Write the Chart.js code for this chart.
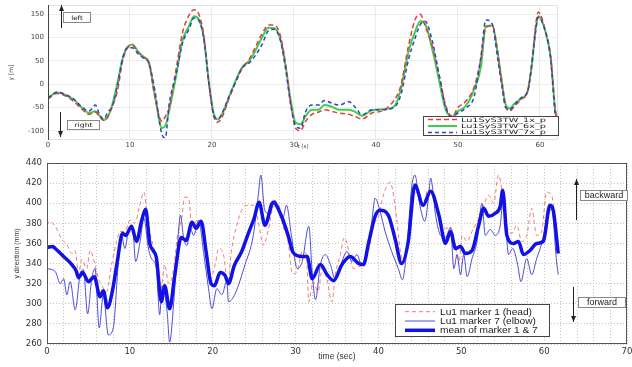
<!DOCTYPE html>
<html><head><meta charset="utf-8">
<script src="https://cdn.jsdelivr.net/npm/chart.js@4.4.0/dist/chart.umd.min.js"></script>
<style>
html,body{margin:0;padding:0;background:#fff;overflow:hidden;width:632px;height:367px;}
#c1{position:absolute;left:0;top:0;width:632px;height:150px;}
#c2{position:absolute;left:0;top:150px;width:632px;height:217px;}
</style></head><body>
<canvas id="c1" width="632" height="150"></canvas>
<canvas id="c2" width="632" height="217"></canvas>
<script>
// ---------- top chart data ----------
const topT = [0,1.1,2.1,3.2,4.2,5.0,5.8,6.2,6.8,7.3,7.9,8.5,9.1,9.7,10.3,11,11.7,12.3,13,13.9,14.3,14.8,15.6,16.4,17.2,17.8,18.4,19,19.6,20.2,20.7,21.3,22.1,22.9,23.7,24.5,25.3,26.1,26.9,27.6,28.4,29,29.6,30.2,30.8,31.4,32.2,33,33.7,34.5,35.5,36.7,37.5,38.3,39.5,40.8,42.2,43,44,44.8,45.4,46,46.9,47.7,48.5,49.3,50,50.9,52,52.8,53.4,54.2,54.8,55.4,55.8,56.3,57,57.8,58.5,59,59.5,59.8,60.7,61.3,61.9,62.2];
const top6x = [-30,-18,-23,-34,-52,-62,-58,-66,-77,-70,-40,5,55,80,85,70,58,48,-20,-94,-90,-55,15,93,125,146,139,100,8,-62,-76,-62,-27,8,37,49,72,100,121,120,93,37,-34,-83,-86,-69,-55,-55,-45,-48,-55,-55,-60,-68,-56,-54,-48,-13,72,114,135,129,72,8,-55,-70,-58,-48,-10,37,125,126,72,-1,-43,-52,-40,-30,-15,40,121,146,111,58,-62,-80];
const top1x = [-32,-20,-25,-38,-55,-65,-60,-68,-78,-70,-45,-12,50,78,83,68,57,45,-25,-80,-70,-50,30,110,148,160,150,105,5,-68,-82,-68,-30,5,35,52,80,108,127,127,100,40,-40,-95,-100,-80,-65,-60,-55,-58,-62,-65,-70,-75,-62,-57,-35,-5,85,140,150,125,80,20,-45,-70,-50,-38,-5,55,122,125,75,0,-45,-58,-45,-32,-15,45,130,155,112,60,-60,-80];
const top7x = [-30,-17,-22,-33,-50,-58,-45,-62,-75,-60,-45,0,55,78,78,65,55,45,-10,-108,-115,-40,20,88,118,142,137,98,5,-65,-75,-60,-25,5,35,45,62,85,115,118,90,30,-45,-90,-95,-60,-45,-45,-35,-40,-45,-38,-50,-66,-55,-55,-50,-25,55,100,128,135,90,20,-50,-70,-62,-52,-25,60,138,128,60,-10,-50,-55,-42,-28,-15,40,118,144,110,55,-75,-100];
const topXTicks = [0,10,20,30,40,50,60];
const topYTicks = [-100,-50,0,50,100,150];
const topLabels = ['Lu1SyS3TW_1x_p','Lu1SyS3TW_6x_p','Lu1SyS3TW_7x_p'];

// ---------- bottom chart data ----------
const botMeanT = [0,0.7,1,2,3,3.5,3.8,4.3,5,5.7,6.4,6.8,7.3,7.9,8.5,9.1,9.5,10.2,10.8,11.4,11.9,12.4,12.8,13.2,13.8,14.2,14.8,15.4,16.2,16.8,17.5,18,18.6,19.2,19.8,20.2,20.9,21.5,21.9,22.6,23.5,24.3,25,25.6,26.3,27.3,28.3,29.1,29.7,30.8,31.4,32,33,33.8,34.6,35.6,36.6,37.6,38.2,38.8,39.6,40.2,41.2,42,42.8,43.6,44.4,45.4,46.3,47.3,48.1,48.7,49.3,49.9,50.5,51.3,52.1,52.7,53.3,54.1,54.7,55,55.5,56.3,56.9,57.5,58.3,59.1,59.9,60.7,61.1,61.7];
const botMeanY = [356,357,355,347,339,333,326,331,322,327,307,313,296,313,343,370,368,377,362,382,394,360,353,346,302,318,295,327,366,363,381,375,382,352,320,318,331,328,320,338,352,370,385,401,378,401,387,368,351,347,347,325,339,329,323,339,347,340,339,360,387,393,388,365,340,362,418,398,412,388,360,372,355,357,350,353,378,395,387,390,397,413,368,360,362,349,353,360,362,398,393,350];
const botElbowT = [0,1,1.6,2,2.4,2.8,3.4,4,4.4,4.9,5.4,5.8,6.3,6.8,7.4,8,8.6,9,9.4,9.8,10.3,10.7,11.2,11.7,12.2,12.6,13.2,13.6,13.9,14.5,14.8,15.3,15.7,16.1,16.5,16.9,17.3,17.7,18.3,18.9,19.5,19.9,20.5,21.1,21.7,21.9,22.7,23.9,24.9,25.5,25.8,26.3,26.9,27.5,28.1,28.5,28.9,29.5,30.2,30.8,31.6,32,32.4,33,33.6,34.2,34.8,35.6,36.2,36.8,37.4,38,38.6,39.2,39.6,40.2,40.8,41.6,42.4,42.9,43.4,44,44.4,45,45.6,46.1,46.3,46.9,47.5,48.1,48.7,49.1,49.5,49.9,50.3,50.7,51.3,51.9,52.5,52.9,53.5,54.1,54.7,55.1,55.7,56.2,56.8,57.2,57.9,58.5,59.1,59.7,60.3,60.9,61.5,61.7];
const botElbowY = [335,332,320,325,309,322,294,329,334,290,325,335,276,309,269,276,339,368,355,371,378,342,360,385,357,345,335,289,318,292,262,302,351,388,365,358,375,368,383,351,315,295,315,309,322,302,310,339,368,408,428,392,390,403,390,386,398,368,335,342,377,332,304,339,349,339,324,342,352,342,349,338,349,382,405,392,372,352,335,324,352,415,428,398,382,411,425,388,368,366,376,335,349,329,349,327,345,362,400,368,374,368,378,408,349,355,339,322,345,329,345,360,382,395,342,329];
const botHeadT = [0,0.3,1,1.8,2.4,3,3.4,3.8,4.2,4.8,5.2,5.7,6.2,6.7,7.2,7.8,8.4,8.8,9.4,10,10.6,11.2,11.7,12,12.4,13,13.4,13.8,14.2,14.7,15.3,15.7,16.3,16.6,17.1,17.5,18.1,18.7,19.3,19.7,20.3,20.7,21.3,21.8,22.3,22.9,23.7,24.3,24.9,25.5,26.1,26.7,27.3,27.9,28.5,29.1,29.6,30.2,30.8,31.3,31.6,32.1,32.7,33.3,33.8,34.4,34.8,35.4,35.9,36.5,37,37.6,38.2,38.8,39.4,40,40.6,41.4,42,42.6,43,43.6,44.2,44.8,45.4,46,46.9,47.5,48.1,48.7,49.3,49.7,50.1,50.7,51.3,52.1,52.7,53.3,53.9,54.5,55,55.5,56.1,56.7,57.3,57.9,58.5,59.1,59.7,60.3,60.9,61.5];
const botHeadY = [378,382,377,364,359,350,353,330,344,335,353,342,325,317,312,339,362,372,372,383,380,398,411,396,372,352,335,318,339,320,335,365,388,406,405,375,383,378,349,325,339,355,349,322,355,378,396,398,398,382,358,373,396,398,377,362,330,332,352,349,302,322,312,339,324,302,329,349,366,349,335,337,339,352,378,386,408,421,398,355,342,362,405,411,398,414,398,382,375,376,357,339,368,362,372,385,398,408,400,428,408,378,370,378,362,368,395,368,372,411,408,368];
const botXTicks = [0,10,20,30,40,50,60,70];
const botYTicks = [260,280,300,320,340,360,380,400,420,440];
const botLabels = ['Lu1 marker 1 (head)','Lu1 marker 7 (elbow)','mean of marker 1 & 7'];

function zip(t,y){ return t.map((v,i)=>({x:v,y:y[i]})); }

function stretchText(ctx,text,x,y,sx){
  ctx.save(); ctx.translate(x,y); ctx.scale(sx,1); ctx.fillText(text,0,0); ctx.restore();
}
function arrow(ctx,x,y1,y2){
  ctx.beginPath(); ctx.moveTo(x+0.5,y1); ctx.lineTo(x+0.5,y2); ctx.stroke();
  const d = y2>y1?1:-1;
  ctx.beginPath(); ctx.moveTo(x+0.5,y2); ctx.lineTo(x-2,y2-d*6); ctx.lineTo(x+3,y2-d*6); ctx.closePath(); ctx.fill();
}
function box(ctx,x,y,w,h,text,font,sx){
  ctx.fillStyle='#fff'; ctx.fillRect(x,y,w,h);
  ctx.strokeStyle='#888'; ctx.lineWidth=1; ctx.strokeRect(x+0.5,y+0.5,w,h);
  ctx.fillStyle='#222'; ctx.font=font; ctx.textAlign='left'; ctx.textBaseline='middle';
  const tw = ctx.measureText(text).width*sx;
  stretchText(ctx,text,x+(w-tw)/2+0.5,y+h/2+1,sx);
}
function drawLegend(ctx,chart,order,labels,bx,by,bw,bh,rows,lx1,lx2,tx,font,sx){
  ctx.save();
  ctx.fillStyle='#fff'; ctx.fillRect(bx,by,bw,bh);
  ctx.strokeStyle='#444'; ctx.lineWidth=1; ctx.strokeRect(bx+0.5,by+0.5,bw,bh);
  order.forEach((di,k)=>{
    const ds = chart.data.datasets[di];
    ctx.strokeStyle=ds.borderColor; ctx.lineWidth=ds.borderWidth; ctx.setLineDash(ds.borderDash||[]);
    ctx.beginPath(); ctx.moveTo(lx1,rows[k]); ctx.lineTo(lx2,rows[k]); ctx.stroke();
    ctx.setLineDash([]);
    ctx.fillStyle='#222'; ctx.font=font; ctx.textAlign='left'; ctx.textBaseline='middle';
    stretchText(ctx,labels[k],tx,rows[k]+0.5,sx);
  });
  ctx.restore();
}

const topPlugin = {
  id:'topDeco',
  afterDraw(chart){
    const ctx=chart.ctx, ca=chart.chartArea;
    ctx.save();
    ctx.strokeStyle='#e2e2e2'; ctx.lineWidth=1;
    ctx.beginPath();
    ctx.moveTo(ca.left,ca.top+0.5); ctx.lineTo(ca.right-0.5,ca.top+0.5); ctx.lineTo(ca.right-0.5,ca.bottom-0.5); ctx.lineTo(ca.left,ca.bottom-0.5);
    ctx.stroke();
    ctx.strokeStyle='#444';
    ctx.beginPath(); ctx.moveTo(Math.round(ca.left)+0.5,ca.top); ctx.lineTo(Math.round(ca.left)+0.5,ca.bottom); ctx.stroke();
    // annotations
    ctx.strokeStyle='#222'; ctx.fillStyle='#222'; ctx.lineWidth=1;
    arrow(ctx,61,28,5);
    arrow(ctx,60,112,137);
    box(ctx,63,12,27,10,'left',"6px 'DejaVu Sans'",1.2);
    box(ctx,67,120,32,9,'right',"6px 'DejaVu Sans'",1.3);
    ctx.restore();
    ctx.save();
    ctx.font="6px 'DejaVu Sans'";
    const sx = 85/ctx.measureText(topLabels[0]).width;
    drawLegend(ctx,chart,[1,2,0],topLabels,423,116,135,19,[119.6,126,132.4],428,457,461,"6px 'DejaVu Sans'",sx);
    ctx.restore();
  }
};

const botPlugin = {
  id:'botDeco',
  afterDraw(chart){
    const ctx=chart.ctx, ca=chart.chartArea;
    ctx.save();
    ctx.strokeStyle='#555'; ctx.lineWidth=1;
    ctx.strokeRect(Math.round(ca.left)+0.5,Math.round(ca.top)+0.5,Math.round(ca.right-ca.left)-1,Math.round(ca.bottom-ca.top)-1);
    ctx.strokeStyle='#222'; ctx.fillStyle='#222';
    arrow(ctx,576,70,29);
    arrow(ctx,573,137,172);
    box(ctx,580,40,47,10,'backward',"9px 'Liberation Sans'",1.0);
    box(ctx,578,147,47,10,'forward',"9px 'Liberation Sans'",1.0);
    ctx.restore();
    ctx.save();
    ctx.font="9.5px 'Liberation Sans'";
    const sx = 92/ctx.measureText(botLabels[0]).width;
    drawLegend(ctx,chart,[2,1,0],botLabels,395,154,154,32,[161.7,171,180.3],405,435,440,"9.5px 'Liberation Sans'",sx);
    ctx.restore();
  }
};

new Chart(document.getElementById('c1'),{
  type:'line',
  data:{datasets:[
    {label:topLabels[2],data:zip(topT,top7x),borderColor:'#2a46c8',borderWidth:1.5,borderDash:[4,3]},
    {label:topLabels[0],data:zip(topT,top1x),borderColor:'#e6393c',borderWidth:1.5,borderDash:[5,3]},
    {label:topLabels[1],data:zip(topT,top6x),borderColor:'#3fd046',borderWidth:2}
  ]},
  options:{
    responsive:false,animation:false,events:[],
    layout:{padding:{left:0,right:74,top:5,bottom:0}},
    elements:{point:{radius:0},line:{cubicInterpolationMode:'monotone'}},
    plugins:{legend:{display:false},tooltip:{enabled:false}},
    scales:{
      x:{type:'linear',min:0,max:62.2,
        afterBuildTicks:s=>{s.ticks=topXTicks.map(v=>({value:v}));},
        afterFit:s=>{s.height=10;s.paddingLeft=0;s.paddingRight=0;},
        grid:{color:'rgba(0,0,0,0.07)',drawTicks:false},
        border:{display:false},
        ticks:{padding:1,autoSkip:false,maxRotation:0,color:'#444',font:{family:'DejaVu Sans',size:7}},
        title:{display:true,text:'t (s)',color:'#444',font:{family:'DejaVu Sans',size:5.5},padding:{top:0,bottom:0}}
      },
      y:{type:'linear',min:-120,max:170,
        afterBuildTicks:s=>{s.ticks=topYTicks.map(v=>({value:v}));},
        afterFit:s=>{s.width=48;s.paddingTop=0;s.paddingBottom=0;},
        grid:{color:'rgba(0,0,0,0.07)',drawTicks:false},
        border:{display:false},
        ticks:{padding:4,color:'#444',font:{family:'DejaVu Sans',size:7}},
        title:{display:true,text:'y [m]',color:'#444',font:{family:'DejaVu Sans',size:6},padding:{top:8,bottom:0}}
      }
    }
  },
  plugins:[topPlugin]
});

new Chart(document.getElementById('c2'),{
  type:'line',
  data:{datasets:[
    {label:botLabels[2],data:zip(botMeanT,botMeanY),borderColor:'#1212e4',borderWidth:3.5},
    {label:botLabels[1],data:zip(botElbowT,botElbowY),borderColor:'#3a3ad0',borderWidth:0.9},
    {label:botLabels[0],data:zip(botHeadT,botHeadY),borderColor:'#f07a7a',borderWidth:1,borderDash:[4,3]}
  ]},
  options:{
    responsive:false,animation:false,events:[],
    layout:{padding:{left:0,right:5,top:13,bottom:0}},
    elements:{point:{radius:0},line:{cubicInterpolationMode:'monotone'}},
    plugins:{legend:{display:false},tooltip:{enabled:false}},
    scales:{
      x:{type:'linear',min:0,max:70,
        afterBuildTicks:s=>{const a=[];for(let v=0;v<=70;v+=2)a.push({value:v});s.ticks=a;},
        afterFit:s=>{s.height=23;s.paddingLeft=0;s.paddingRight=0;},
        grid:{color:'#c4c4c4',drawTicks:false},
        border:{display:false,dash:[1,2]},
        ticks:{padding:3,autoSkip:false,maxRotation:0,color:'#333',font:{family:'DejaVu Sans',size:8.5},
          callback:v=>botXTicks.includes(v)?String(v):''},
        title:{display:true,text:'time (sec)',color:'#333',font:{family:'Liberation Sans',size:8.5},padding:{top:0,bottom:5}}
      },
      y:{type:'linear',min:260,max:440,
        afterBuildTicks:s=>{s.ticks=botYTicks.map(v=>({value:v}));},
        afterFit:s=>{s.width=47;s.paddingTop=0;s.paddingBottom=0;},
        grid:{color:'#c4c4c4',drawTicks:false},
        border:{display:false,dash:[1,2]},
        ticks:{padding:5,color:'#333',font:{family:'DejaVu Sans',size:8.5}},
        title:{display:true,text:'y direction (mm)',color:'#333',font:{family:'Liberation Sans',size:7},padding:{top:13,bottom:0}}
      }
    }
  },
  plugins:[botPlugin]
});
</script>
</body></html>
